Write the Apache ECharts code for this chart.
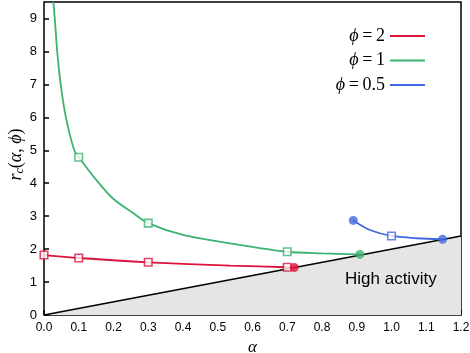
<!DOCTYPE html>
<html>
<head>
<meta charset="utf-8">
<script src="https://cdn.jsdelivr.net/npm/echarts@6/dist/echarts.min.js"></script>
<style>
  html, body { margin: 0; padding: 0; background: #fff; }
  #chart { width: 470px; height: 353px; }
</style>
</head>
<body>
<div id="chart"></div>
<script>
// curves, [alpha, r_c]
let redCurve = [[0, 1.82], [0.1, 1.73], [0.3, 1.6], [0.535, 1.5], [0.7, 1.45], [0.72, 1.44]];
let greenCurve = [[0.027, 9.5], [0.031, 9], [0.038, 8], [0.048, 7], [0.063, 6], [0.087, 5],
    [0.1, 4.79], [0.152, 4.08], [0.2, 3.52], [0.257, 3.09], [0.3, 2.79],
    [0.4, 2.43], [0.545, 2.16], [0.7, 1.92], [0.8, 1.87], [0.909, 1.84]];
let blueCurve = [[0.89, 2.87], [0.938, 2.58], [1.0, 2.4], [1.073, 2.33], [1.147, 2.3]];

// open squares and filled end points
let redSquares = [[0, 1.82], [0.1, 1.73], [0.3, 1.6], [0.7, 1.45]];
let redDots = [[0.72, 1.44]];
let greenSquares = [[0.1, 4.79], [0.3, 2.79], [0.7, 1.92]];
let greenDots = [[0.909, 1.84]];
let blueSquares = [[1.0, 2.4]];
let blueDots = [[0.89, 2.87], [1.147, 2.3]];

// boundary r = 2 alpha
let boundary = [[0, 0], [1.2, 2.4]];

let names = ["ϕ = 2", "ϕ = 1", "ϕ = 0.5"];
let colors = ["#dc143c", "#3cb371", "#4169e1"];

let chart = echarts.init(document.getElementById("chart"));

function squares(data, color) {
    return {
        type: "scatter",
        data: data,
        symbol: "rect",
        symbolSize: 7.5,
        itemStyle: { color: "#fff", borderColor: color, borderWidth: 1.6 },
        z: 5,
        silent: true,
    };
}
function dots(data, color) {
    return {
        type: "scatter",
        data: data,
        symbol: "circle",
        symbolSize: 9,
        itemStyle: { color: color },
        z: 5,
        silent: true,
    };
}
function curve(name, data, color) {
    return {
        name: name,
        type: "line",
        data: data,
        smooth: 0.3,
        showSymbol: false,
        color: color,
        lineStyle: { color: color, width: 1.8 },
        z: 4,
    };
}

chart.setOption({
    animation: false,
    grid: {
        left: 44,
        right: 9,
        top: 2,
        bottom: 38,
        containLabel: false,
        outerBoundsMode: "none",
        show: true,
        borderColor: "#000",
        borderWidth: 1.5,
    },
    legend: {
        data: names,
        orient: "vertical",
        align: "right",
        right: 40,
        top: 22,
        icon: "rect",
        itemWidth: 35,
        itemHeight: 2,
        itemGap: 6.5,
        formatter: (name) => "{i|ϕ}{n|\u2009=\u2009" + name.slice(4) + "}",
        textStyle: {
            color: "#000",
            rich: {
                i: { fontFamily: "Liberation Serif", fontStyle: "italic", fontSize: 18, lineHeight: 20, color: "#000" },
                n: { fontFamily: "Liberation Serif", fontSize: 18, lineHeight: 20, color: "#000" },
            },
        },
    },
    xAxis: {
        type: "value",
        min: 0,
        max: 1.2,
        interval: 0.1,
        name: "α",
        nameLocation: "middle",
        nameGap: 21,
        nameTextStyle: { fontFamily: "Liberation Serif", fontStyle: "italic", fontSize: 17, color: "#000" },
        axisLine: { show: false },
        axisTick: { inside: true, length: 5, lineStyle: { color: "#000", width: 1.5 } },
        axisLabel: {
            color: "#000",
            fontFamily: "Liberation Sans",
            fontSize: 12,
            margin: 7,
            formatter: (v) => v.toFixed(1),
        },
        splitLine: { show: false },
    },
    yAxis: {
        type: "value",
        min: 0,
        max: 9.5,
        interval: 1,
        name: "{i|r}{s|c}{n|(}{i|α}{n|, }{i|ϕ}{n|)}",
        nameLocation: "middle",
        nameGap: 18,
        nameMoveOverlap: false,
        nameRotate: 90,
        nameTextStyle: {
            padding: [0, 0, 0, 8],
            rich: {
                i: { fontFamily: "Liberation Serif", fontStyle: "italic", fontSize: 18, color: "#000" },
                n: { fontFamily: "Liberation Serif", fontSize: 18, color: "#000" },
                s: { fontFamily: "Liberation Serif", fontStyle: "italic", fontSize: 12, color: "#000", verticalAlign: "bottom", padding: [8, 0, 0, 0] },
            },
        },
        axisLine: { show: false },
        axisTick: { inside: true, length: 5, lineStyle: { color: "#000", width: 1.5 } },
        axisLabel: {
            color: "#000",
            fontFamily: "Liberation Sans",
            fontSize: 13,
            margin: 7,
            showMaxLabel: false,
        },
        splitLine: { show: false },
    },
    graphic: [
        {
            type: "text",
            left: 345,
            top: 271,
            style: { text: "High activity", fontFamily: "Liberation Sans", fontSize: 17, fill: "#000" },
            z: 10,
        },
    ],
    series: [
        {
            type: "line",
            data: boundary,
            showSymbol: false,
            lineStyle: { color: "#000", width: 1.5 },
            areaStyle: { color: "#e5e5e5", opacity: 1 },
            z: 2,
            silent: true,
        },
        curve(names[0], redCurve, colors[0]),
        curve(names[1], greenCurve, colors[1]),
        curve(names[2], blueCurve, colors[2]),
        squares(redSquares, colors[0]),
        dots(redDots, colors[0]),
        squares(greenSquares, colors[1]),
        dots(greenDots, colors[1]),
        squares(blueSquares, colors[2]),
        dots(blueDots, colors[2]),
    ],
});
</script>
</body>
</html>
